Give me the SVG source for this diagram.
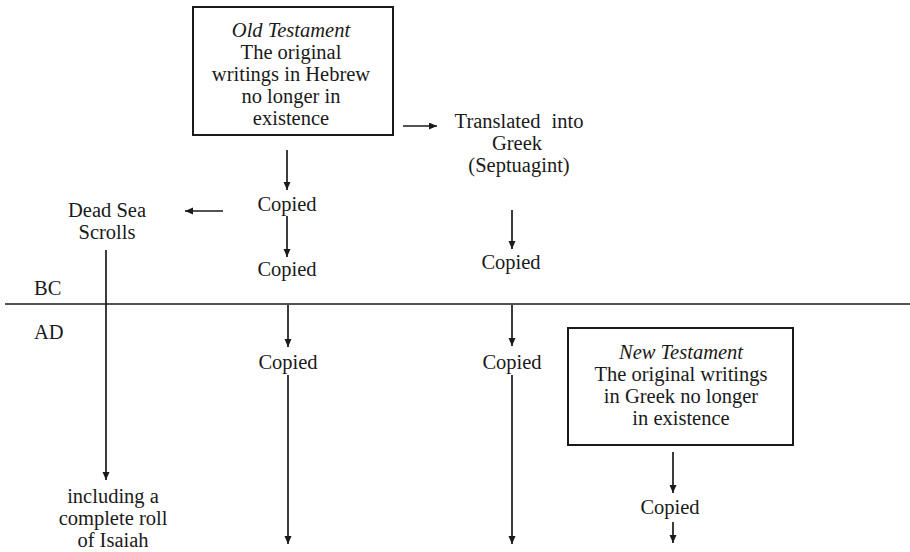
<svg xmlns="http://www.w3.org/2000/svg" width="910" height="552" viewBox="0 0 910 552">
<defs>
<marker id="ah" markerUnits="userSpaceOnUse" markerWidth="9" markerHeight="8" refX="8" refY="3.5" orient="auto">
<path d="M0,0 L8,3.5 L0,7 z" fill="#1a1a1a"/>
</marker>
<style>
text{font-family:"Liberation Serif","Times New Roman",serif;font-size:20.5px;fill:#1a1a1a;text-anchor:middle}
.it{font-style:italic}
.box{fill:none;stroke:#1a1a1a;stroke-width:2}
.c{stroke:#1a1a1a;stroke-width:1.7;fill:none}
.a{marker-end:url(#ah)}
.l{text-anchor:start}
</style>
</defs>
<rect width="910" height="552" fill="#fff"/>
<g id="old-testament">
<rect class="box" x="193" y="7" width="200" height="128"/>
<text class="it" x="291" y="37">Old Testament</text>
<text x="291" y="59">The original</text>
<text x="291" y="81">writings in Hebrew</text>
<text x="291" y="103">no longer in</text>
<text x="291" y="125">existence</text>
</g>
<g id="septuagint">
<text x="519" y="128" word-spacing="6">Translated into</text>
<text x="517" y="150">Greek</text>
<text x="519" y="172">(Septuagint)</text>
</g>
<g id="copied-ot-1"><text x="287" y="211">Copied</text></g>
<g id="copied-ot-2"><text x="287" y="276">Copied</text></g>
<g id="copied-sep-1"><text x="511" y="269">Copied</text></g>
<g id="dead-sea">
<text x="107" y="217">Dead Sea</text>
<text x="107" y="239">Scrolls</text>
</g>
<g id="era">
<text class="l" x="34" y="295">BC</text>
<text class="l" x="34" y="339">AD</text>
<line class="c" x1="5" y1="304" x2="910" y2="304" stroke-width="2"/>
</g>
<g id="copied-ot-3"><text x="288" y="369">Copied</text></g>
<g id="copied-sep-2"><text x="512" y="369">Copied</text></g>
<g id="new-testament">
<rect class="box" x="568" y="328" width="225" height="117"/>
<text class="it" x="681" y="359">New Testament</text>
<text x="681" y="381">The original writings</text>
<text x="681" y="403">in Greek no longer</text>
<text x="681" y="425">in existence</text>
</g>
<g id="copied-nt"><text x="670" y="514">Copied</text></g>
<g id="isaiah">
<text x="113" y="503">including a</text>
<text x="113" y="525">complete roll</text>
<text x="113" y="547">of Isaiah</text>
</g>
<g id="connectors">
<line class="c a" x1="403" y1="126" x2="437" y2="126"/>
<line class="c a" x1="287" y1="150" x2="287" y2="190"/>
<line class="c a" x1="223" y1="211" x2="185" y2="211"/>
<line class="c a" x1="287" y1="216" x2="287" y2="257"/>
<line class="c a" x1="512" y1="210" x2="512" y2="249"/>
<line class="c a" x1="106" y1="250" x2="106" y2="480"/>
<line class="c a" x1="288" y1="305" x2="288" y2="347"/>
<line class="c a" x1="512" y1="305" x2="512" y2="346"/>
<line class="c a" x1="288" y1="375" x2="288" y2="544"/>
<line class="c a" x1="512" y1="375" x2="512" y2="544"/>
<line class="c a" x1="673" y1="452" x2="673" y2="493"/>
<line class="c a" x1="673" y1="522" x2="673" y2="543"/>
</g>
</svg>
